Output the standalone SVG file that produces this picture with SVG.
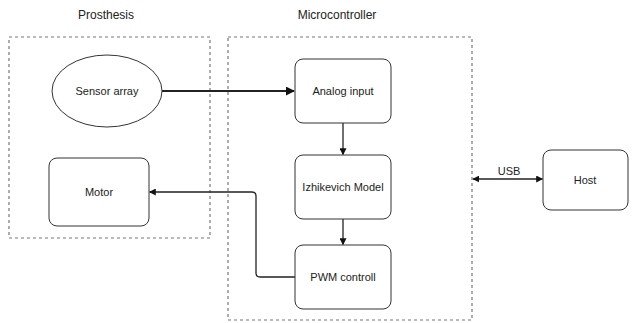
<svg xmlns="http://www.w3.org/2000/svg" width="632" height="323" viewBox="0 0 632 323">
<style>
.bg{fill:#ffffff}
.cont{fill:none;stroke:#777;stroke-width:1.2;stroke-dasharray:3 3}
.box{fill:#fff;stroke:#333;stroke-width:1}
.t{font-family:"Liberation Sans",Arial,sans-serif;font-size:11px;fill:#222;text-anchor:middle;dominant-baseline:central}
.title{font-family:"Liberation Sans",Arial,sans-serif;font-size:12px;fill:#222;text-anchor:middle;dominant-baseline:central}
.c{fill:none;stroke:#222;stroke-width:1.3}
.thick{stroke-width:2}
</style>
<defs>
<marker id="arr" viewBox="0 0 10 10" refX="9" refY="5" markerWidth="7" markerHeight="7" markerUnits="userSpaceOnUse" orient="auto-start-reverse">
<path d="M0,0 L10,5 L0,10 Z" fill="#111"/>
</marker>
<marker id="arrT" viewBox="0 0 10 10" refX="9" refY="5" markerWidth="9" markerHeight="9" markerUnits="userSpaceOnUse" orient="auto">
<path d="M0,0 L10,5 L0,10 Z" fill="#111"/>
</marker>
</defs>
<rect class="bg" x="0" y="0" width="632" height="323"/>
<g id="prosthesis">
<rect class="cont" x="9" y="37" width="201" height="201"/>
<text class="title" x="106" y="15">Prosthesis</text>
</g>
<g id="microcontroller">
<rect class="cont" x="228" y="37" width="244" height="283"/>
<text class="title" x="337" y="15">Microcontroller</text>
</g>
<g id="connectors">
<path class="c thick" d="M162,91 H294" marker-end="url(#arrT)"/>
<path class="c" d="M343,123 V154.5" marker-end="url(#arr)"/>
<path class="c" d="M343,219 V244.5" marker-end="url(#arr)"/>
<path class="c" d="M295,277 H260 Q256,277 256,273 V196 Q256,192 252,192 H149.5" marker-end="url(#arr)"/>
<path class="c" d="M473,179 H542.5" marker-start="url(#arr)" marker-end="url(#arr)"/>
<text class="t" x="509" y="171">USB</text>
</g>
<g id="sensor-array">
<ellipse class="box" cx="107" cy="91" rx="55" ry="36"/>
<text class="t" x="107" y="91">Sensor array</text>
</g>
<g id="motor">
<rect class="box" x="49" y="158" width="100" height="68" rx="8"/>
<text class="t" x="99" y="192">Motor</text>
</g>
<g id="analog-input">
<rect class="box" x="295" y="59" width="96" height="64" rx="8"/>
<text class="t" x="343" y="91">Analog input</text>
</g>
<g id="izhikevich-model">
<rect class="box" x="295" y="155" width="96" height="64" rx="8"/>
<text class="t" x="343" y="187">Izhikevich Model</text>
</g>
<g id="pwm-controll">
<rect class="box" x="295" y="245" width="96" height="64" rx="8"/>
<text class="t" x="343" y="277">PWM controll</text>
</g>
<g id="host">
<rect class="box" x="543" y="150" width="85" height="60" rx="8"/>
<text class="t" x="585" y="180">Host</text>
</g>
</svg>
